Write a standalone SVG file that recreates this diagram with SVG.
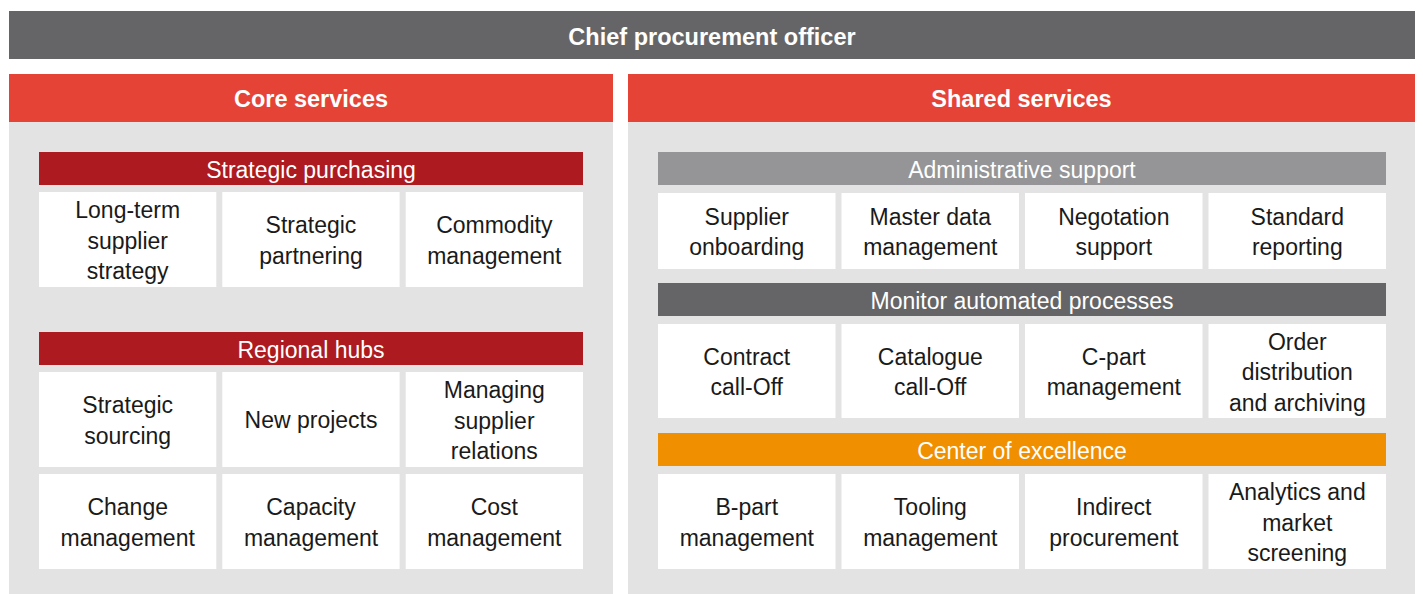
<svg xmlns="http://www.w3.org/2000/svg" width="1423" height="594" viewBox="0 0 1423 594">
<style>
text{font-family:"Liberation Sans",Arial,Helvetica,sans-serif;font-size:23px;text-anchor:middle}
.hd{fill:#fff;font-weight:bold;font-size:23.5px}
.sb{fill:#fff}
.bx{fill:#1a1a1a}
.box{fill:#fff}
.panel{fill:#e2e3e2}
.red{fill:#e54336}
.dred{fill:#ad1a1f}
.dgray{fill:#656567}
.lgray{fill:#959597}
.orange{fill:#f08f00}
</style>
<rect width="1423" height="594" fill="#fff"/>
<g id="cpo">
<rect x="9" y="11" width="1406" height="48" class="dgray"/>
<text x="712" y="44.5" class="hd">Chief procurement officer</text>
</g>
<g id="core-services">
<rect x="9" y="122" width="604" height="472" class="panel"/>
<rect x="9" y="74" width="604" height="48" class="red"/>
<text x="311" y="107" class="hd">Core services</text>
</g>
<g id="shared-services">
<rect x="628" y="122" width="787" height="472" class="panel"/>
<rect x="628" y="74" width="787" height="48" class="red"/>
<text x="1021.5" y="107" class="hd">Shared services</text>
</g>
<g id="strategic-purchasing">
<rect x="39" y="152" width="544" height="33" class="dred"/>
<text x="311" y="178" class="sb">Strategic purchasing</text>
</g>
<g id="sp-1"><rect x="39" y="192" width="177.3" height="95" class="box"/><text x="127.7" class="bx"><tspan x="127.7" y="218">Long-term</tspan><tspan x="127.7" y="248.5">supplier</tspan><tspan x="127.7" y="279">strategy</tspan></text></g>
<g id="sp-2"><rect x="222.3" y="192" width="177.3" height="95" class="box"/><text x="311" class="bx"><tspan x="311" y="233">Strategic</tspan><tspan x="311" y="263.5">partnering</tspan></text></g>
<g id="sp-3"><rect x="405.7" y="192" width="177.3" height="95" class="box"/><text x="494.3" class="bx"><tspan x="494.3" y="233">Commodity</tspan><tspan x="494.3" y="263.5">management</tspan></text></g>
<g id="regional-hubs">
<rect x="39" y="332" width="544" height="33" class="dred"/>
<text x="311" y="358" class="sb">Regional hubs</text>
</g>
<g id="rh-1"><rect x="39" y="372" width="177.3" height="95" class="box"/><text class="bx"><tspan x="127.7" y="413">Strategic</tspan><tspan x="127.7" y="443.5">sourcing</tspan></text></g>
<g id="rh-2"><rect x="222.3" y="372" width="177.3" height="95" class="box"/><text x="311" y="428" class="bx">New projects</text></g>
<g id="rh-3"><rect x="405.7" y="372" width="177.3" height="95" class="box"/><text class="bx"><tspan x="494.3" y="398">Managing</tspan><tspan x="494.3" y="428.5">supplier</tspan><tspan x="494.3" y="459">relations</tspan></text></g>
<g id="rh-4"><rect x="39" y="474" width="177.3" height="95" class="box"/><text class="bx"><tspan x="127.7" y="515">Change</tspan><tspan x="127.7" y="545.5">management</tspan></text></g>
<g id="rh-5"><rect x="222.3" y="474" width="177.3" height="95" class="box"/><text class="bx"><tspan x="311" y="515">Capacity</tspan><tspan x="311" y="545.5">management</tspan></text></g>
<g id="rh-6"><rect x="405.7" y="474" width="177.3" height="95" class="box"/><text class="bx"><tspan x="494.3" y="515">Cost</tspan><tspan x="494.3" y="545.5">management</tspan></text></g>
<g id="administrative-support">
<rect x="658" y="152" width="728" height="33" class="lgray"/>
<text x="1022" y="178" class="sb">Administrative support</text>
</g>
<g id="as-1"><rect x="658" y="193" width="177.5" height="76" class="box"/><text class="bx"><tspan x="746.8" y="224.5">Supplier</tspan><tspan x="746.8" y="255">onboarding</tspan></text></g>
<g id="as-2"><rect x="841.5" y="193" width="177.5" height="76" class="box"/><text class="bx"><tspan x="930.3" y="224.5">Master data</tspan><tspan x="930.3" y="255">management</tspan></text></g>
<g id="as-3"><rect x="1025" y="193" width="177.5" height="76" class="box"/><text class="bx"><tspan x="1113.8" y="224.5">Negotation</tspan><tspan x="1113.8" y="255">support</tspan></text></g>
<g id="as-4"><rect x="1208.5" y="193" width="177.5" height="76" class="box"/><text class="bx"><tspan x="1297.3" y="224.5">Standard</tspan><tspan x="1297.3" y="255">reporting</tspan></text></g>
<g id="monitor-automated-processes">
<rect x="658" y="283" width="728" height="33" class="dgray"/>
<text x="1022" y="309" class="sb">Monitor automated processes</text>
</g>
<g id="ma-1"><rect x="658" y="324" width="177.5" height="94" class="box"/><text class="bx"><tspan x="746.8" y="364.5">Contract</tspan><tspan x="746.8" y="395">call-Off</tspan></text></g>
<g id="ma-2"><rect x="841.5" y="324" width="177.5" height="94" class="box"/><text class="bx"><tspan x="930.3" y="364.5">Catalogue</tspan><tspan x="930.3" y="395">call-Off</tspan></text></g>
<g id="ma-3"><rect x="1025" y="324" width="177.5" height="94" class="box"/><text class="bx"><tspan x="1113.8" y="364.5">C-part</tspan><tspan x="1113.8" y="395">management</tspan></text></g>
<g id="ma-4"><rect x="1208.5" y="324" width="177.5" height="94" class="box"/><text class="bx"><tspan x="1297.3" y="349.5">Order</tspan><tspan x="1297.3" y="380">distribution</tspan><tspan x="1297.3" y="410.5">and archiving</tspan></text></g>
<g id="center-of-excellence">
<rect x="658" y="433" width="728" height="33" class="orange"/>
<text x="1022" y="459" class="sb">Center of excellence</text>
</g>
<g id="ce-1"><rect x="658" y="474" width="177.5" height="95" class="box"/><text class="bx"><tspan x="746.8" y="515">B-part</tspan><tspan x="746.8" y="545.5">management</tspan></text></g>
<g id="ce-2"><rect x="841.5" y="474" width="177.5" height="95" class="box"/><text class="bx"><tspan x="930.3" y="515">Tooling</tspan><tspan x="930.3" y="545.5">management</tspan></text></g>
<g id="ce-3"><rect x="1025" y="474" width="177.5" height="95" class="box"/><text class="bx"><tspan x="1113.8" y="515">Indirect</tspan><tspan x="1113.8" y="545.5">procurement</tspan></text></g>
<g id="ce-4"><rect x="1208.5" y="474" width="177.5" height="95" class="box"/><text class="bx"><tspan x="1297.3" y="500">Analytics and</tspan><tspan x="1297.3" y="530.5">market</tspan><tspan x="1297.3" y="561">screening</tspan></text></g>
<g id="connectors"></g>
</svg>
